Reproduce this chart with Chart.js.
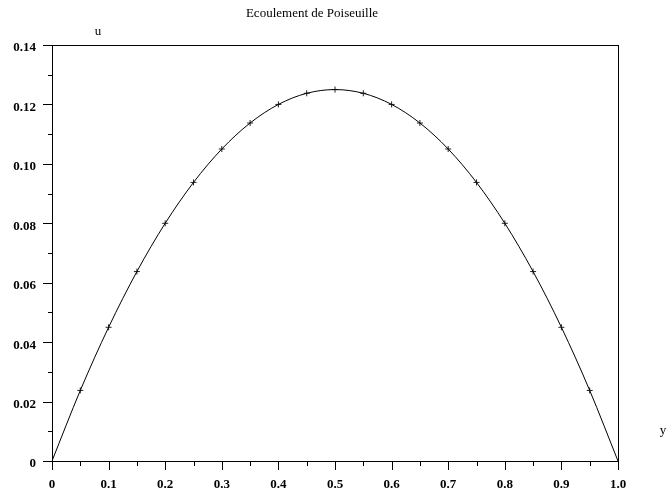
<!DOCTYPE html>
<html lang="fr">
  <head>
    <meta charset="UTF-8" />
    <title>Ecoulement de Poiseuille</title>
    <script src="https://cdn.jsdelivr.net/npm/chart.js"></script>
    <style>
      html, body { margin: 0; padding: 0; background: #fff; }
      #wrap { width: 667px; height: 492px; }
    </style>
  </head>
  <body>
    <div id="wrap"><canvas id="myChart" width="667" height="492"></canvas></div>

<script>
  // donnees
  var yPos = [0, 0.05, 0.1, 0.15, 0.2, 0.25, 0.3, 0.35, 0.4, 0.45, 0.5,
              0.55, 0.6, 0.65, 0.7, 0.75, 0.8, 0.85, 0.9, 0.95, 1.0];
  var uVal = [0, 0.02375, 0.045, 0.06375, 0.08, 0.09375, 0.105, 0.11375, 0.12, 0.12375, 0.125,
              0.12375, 0.12, 0.11375, 0.105, 0.09375, 0.08, 0.06375, 0.045, 0.02375, 0];
  // points marques (+)
  var yMark = [0.05, 0.1, 0.15, 0.2, 0.25, 0.3, 0.35, 0.4, 0.45, 0.5,
               0.55, 0.6, 0.65, 0.7, 0.75, 0.8, 0.85, 0.9, 0.95];
  var uMark = [0.02375, 0.045, 0.06375, 0.08, 0.09375, 0.105, 0.11375, 0.12, 0.12375, 0.125,
               0.12375, 0.12, 0.11375, 0.105, 0.09375, 0.08, 0.06375, 0.045, 0.02375];
  var xLabels = ["0", "0.1", "0.2", "0.3", "0.4", "0.5", "0.6", "0.7", "0.8", "0.9", "1.0"];
  var yLabels = ["0", "0.02", "0.04", "0.06", "0.08", "0.10", "0.12", "0.14"];

  var titre = "Ecoulement de Poiseuille";
  var fonte = "'Liberation Serif', 'DejaVu Serif', serif";

  var courbe = [];
  for (var i = 0; i < yPos.length; i++) courbe.push({ x: yPos[i], y: uVal[i] });
  var marques = [];
  for (var j = 0; j < yMark.length; j++) marques.push({ x: yMark[j], y: uMark[j] });

  // cadre, graduations et textes
  var cadre = {
    id: "cadre",
    afterDraw: function (chart) {
      var ctx = chart.ctx;
      var a = chart.chartArea;
      var sx = chart.scales.x, sy = chart.scales.y;
      ctx.save();
      ctx.strokeStyle = "#000";
      ctx.lineWidth = 1;
      ctx.strokeRect(Math.round(a.left) + 0.5, Math.round(a.top) + 0.5,
                     Math.round(a.right - a.left), Math.round(a.bottom - a.top));
      ctx.beginPath();
      for (var k = 0; k <= 20; k++) {
        var px = Math.round(sx.getPixelForValue(k * 0.05)) + 0.5;
        var len = k % 2 === 0 ? 9 : 5;
        ctx.moveTo(px, a.bottom);
        ctx.lineTo(px, a.bottom + len);
      }
      for (var m = 0; m <= 14; m++) {
        var py = Math.round(sy.getPixelForValue(m * 0.01)) + 0.5;
        var l2 = m % 2 === 0 ? 9 : 4;
        ctx.moveTo(a.left, py);
        ctx.lineTo(a.left - l2, py);
      }
      ctx.stroke();

      ctx.fillStyle = "#000";
      ctx.font = "13px " + fonte;
      ctx.textAlign = "center";
      ctx.textBaseline = "alphabetic";
      ctx.fillText(titre, 312, 17);
      ctx.fillText("u", 98, 35);
      ctx.fillText("y", 663, 434);
      ctx.restore();
    }
  };

  const ctx = document.getElementById("myChart");
  new Chart(ctx, {
    type: "scatter",
    data: {
      datasets: [
        {
          data: courbe,
          showLine: true,
          borderColor: "#000",
          borderWidth: 1,
          pointRadius: 0,
          cubicInterpolationMode: "monotone",
          fill: false
        },
        {
          data: marques,
          showLine: false,
          pointStyle: "cross",
          pointRadius: 3,
          borderColor: "#222",
          borderWidth: 1
        }
      ]
    },
    options: {
      responsive: false,
      animation: false,
      events: [],
      layout: { padding: { left: 0, top: 45, right: 49, bottom: 0 } },
      plugins: {
        legend: { display: false },
        title: { display: false },
        tooltip: { enabled: false }
      },
      scales: {
        x: {
          type: "linear",
          min: 0,
          max: 1,
          grid: { display: false, drawTicks: false },
          border: { display: false },
          afterFit: function (s) { s.height = 31; },
          ticks: {
            stepSize: 0.1,
            padding: 16,
            maxRotation: 0,
            color: "#000",
            font: { family: fonte, size: 13, weight: "bold" },
            callback: function (v) {
              var idx = Math.round(v * 10);
              return xLabels[idx];
            }
          }
        },
        y: {
          type: "linear",
          min: 0,
          max: 0.14,
          grid: { display: false, drawTicks: false },
          border: { display: false },
          afterFit: function (s) { s.width = 52; },
          ticks: {
            stepSize: 0.02,
            padding: 16,
            labelOffset: 3,
            color: "#000",
            font: { family: fonte, size: 13, weight: "bold" },
            callback: function (v) {
              var idx = Math.round(v / 0.02);
              return yLabels[idx];
            }
          }
        }
      }
    },
    plugins: [cadre]
  });
</script>
  </body>
</html>
